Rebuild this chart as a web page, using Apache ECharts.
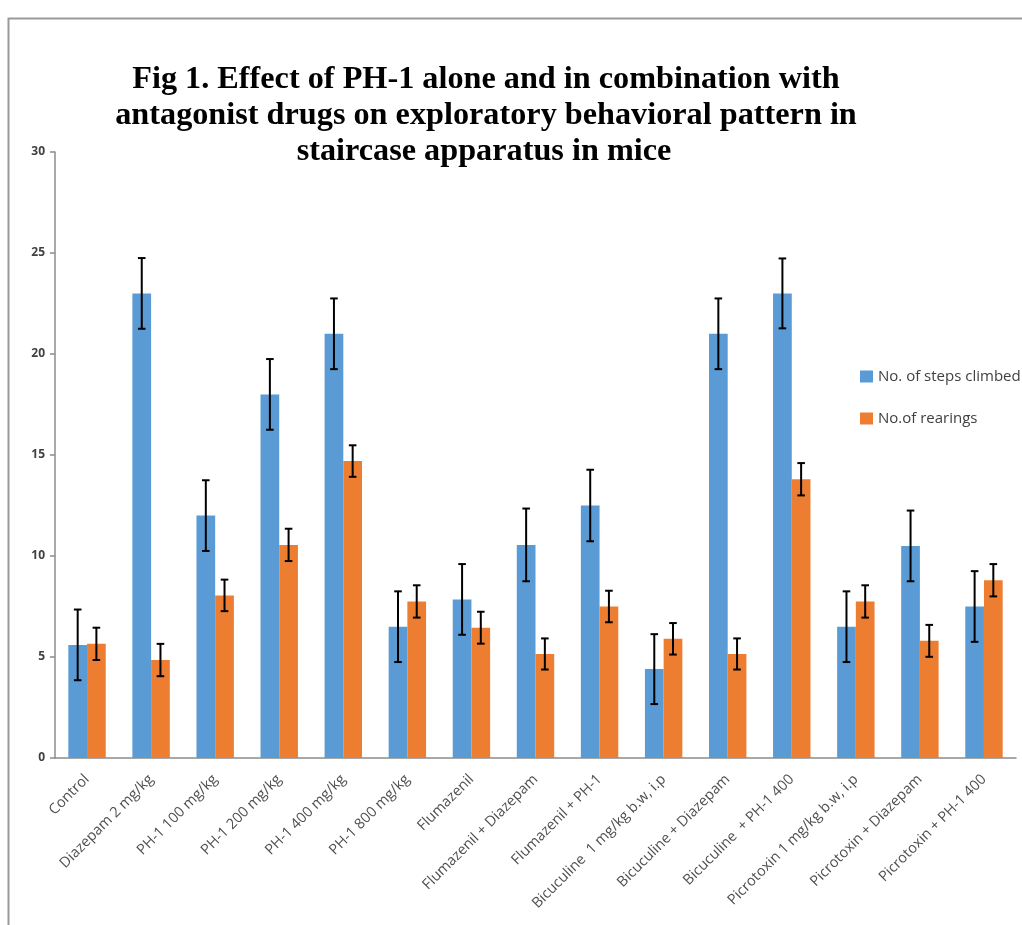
<!DOCTYPE html>
<html>
<head>
<meta charset="utf-8">
<script src="https://cdn.jsdelivr.net/npm/echarts@6/dist/echarts.min.js"></script>
<style>html,body{margin:0;padding:0;background:#fff;}#chart{width:1022px;height:925px;}</style>
</head>
<body>
<div id="chart"></div>
<script>
const categories = ["Control","Diazepam 2 mg/kg","PH-1 100 mg/kg","PH-1 200 mg/kg","PH-1 400 mg/kg","PH-1 800 mg/kg","Flumazenil","Flumazenil + Diazepam","Flumazenil + PH-1","Bicuculine  1 mg/kg b.w, i.p","Bicuculine + Diazepam","Bicuculine  + PH-1 400","Picrotoxin 1 mg/kg b.w, i.p","Picrotoxin + Diazepam","Picrotoxin + PH-1 400"];
const seriesNames = ["No. of steps climbed","No.of rearings"];
const stepsClimbed = [5.6, 23, 12, 18, 21, 6.5, 7.85, 10.55, 12.5, 4.4, 21, 23, 6.5, 10.5, 7.5];
const stepsErr     = [1.75, 1.75, 1.75, 1.75, 1.75, 1.75, 1.75, 1.8, 1.77, 1.73, 1.75, 1.73, 1.75, 1.75, 1.75];
const rearings     = [5.65, 4.85, 8.05, 10.55, 14.7, 7.75, 6.45, 5.15, 7.5, 5.9, 5.15, 13.8, 7.75, 5.8, 8.8];
const rearingsErr  = [0.8, 0.8, 0.78, 0.8, 0.78, 0.8, 0.79, 0.77, 0.78, 0.78, 0.77, 0.8, 0.8, 0.79, 0.8];
const yTicks = {min: 0, max: 30, interval: 5};

const titleLines = ["Fig 1. Effect of PH-1 alone and in combination with","antagonist drugs on exploratory behavioral pattern in","staircase apparatus in mice"];

const BLUE = '#5B9BD5', ORANGE = '#ED7D31';
const BAR_FRAC = 0.292;

function errSeries(vals, errs, sign) {
  return {
    type: 'custom',
    z: 5,
    silent: true,
    data: vals.map((v, i) => [i, v, errs[i]]),
    renderItem: function (params, api) {
      const i = api.value(0), v = api.value(1), e = api.value(2);
      const band = api.size([1, 0])[0];
      const off = sign * band * BAR_FRAC / 2;
      const top = api.coord([i, v + e]);
      const bot = api.coord([i, v - e]);
      const x = top[0] + off;
      const cap = 3.8;
      const st = {stroke: '#000', lineWidth: 2};
      return {type: 'group', children: [
        {type: 'line', shape: {x1: x, y1: top[1], x2: x, y2: bot[1]}, style: st},
        {type: 'line', shape: {x1: x - cap, y1: top[1], x2: x + cap, y2: top[1]}, style: st},
        {type: 'line', shape: {x1: x - cap, y1: bot[1], x2: x + cap, y2: bot[1]}, style: st}
      ]};
    }
  };
}

const TITLE_FONT = 'bold 31px "Liberation Serif", serif';
const TITLE_SX = 1.04;

const chart = echarts.init(document.getElementById('chart'));
chart.setOption({
  animation: false,
  backgroundColor: '#fff',
  graphic: [
    {type: 'rect', shape: {x: 8.5, y: 18.5, width: 1100, height: 1000}, style: {fill: 'none', stroke: '#9a9a9a', lineWidth: 2}, silent: true},
    {type: 'text', x: 486, y: 80, scaleX: TITLE_SX, style: {text: titleLines[0], textAlign: 'center', textVerticalAlign: 'middle', font: TITLE_FONT, fill: '#000'}},
    {type: 'text', x: 486, y: 116, scaleX: TITLE_SX, style: {text: titleLines[1], textAlign: 'center', textVerticalAlign: 'middle', font: TITLE_FONT, fill: '#000'}},
    {type: 'text', x: 484, y: 152, scaleX: TITLE_SX, style: {text: titleLines[2], textAlign: 'center', textVerticalAlign: 'middle', font: TITLE_FONT, fill: '#000'}}
  ],
  legend: {
    orient: 'vertical',
    left: 855,
    top: 364,
    itemWidth: 13,
    itemHeight: 12,
    itemGap: 27,
    data: seriesNames,
    textStyle: {fontFamily: 'Open Sans', fontSize: 15, color: '#404040'},
    icon: 'rect'
  },
  grid: {left: 55, right: 6, top: 152, bottom: 167, containLabel: false},
  xAxis: {
    type: 'category',
    data: categories,
    boundaryGap: true,
    axisLine: {lineStyle: {color: '#8c8c8c', width: 1.5}},
    axisTick: {length: 5, lineStyle: {color: '#8c8c8c', width: 1.5}},
    axisLabel: {rotate: 45, interval: 0, margin: 19, fontFamily: 'Open Sans', fontSize: 14.5, color: '#505050'}
  },
  yAxis: {
    type: 'value',
    min: yTicks.min, max: yTicks.max, interval: yTicks.interval,
    splitLine: {show: false},
    axisLine: {show: true, lineStyle: {color: '#8c8c8c', width: 1.5}},
    axisTick: {show: true, length: 5, lineStyle: {color: '#8c8c8c', width: 1.5}},
    axisLabel: {margin: 10, fontFamily: 'Open Sans', fontSize: 12, fontWeight: 'bold', color: '#404040'}
  },
  series: [
    {name: seriesNames[0], type: 'bar', data: stepsClimbed, barWidth: (BAR_FRAC * 100) + '%', barGap: '0%', itemStyle: {color: BLUE}},
    {name: seriesNames[1], type: 'bar', data: rearings, barWidth: (BAR_FRAC * 100) + '%', barGap: '0%', itemStyle: {color: ORANGE}},
    errSeries(stepsClimbed, stepsErr, -1),
    errSeries(rearings, rearingsErr, 1)
  ]
});
</script>
</body>
</html>
